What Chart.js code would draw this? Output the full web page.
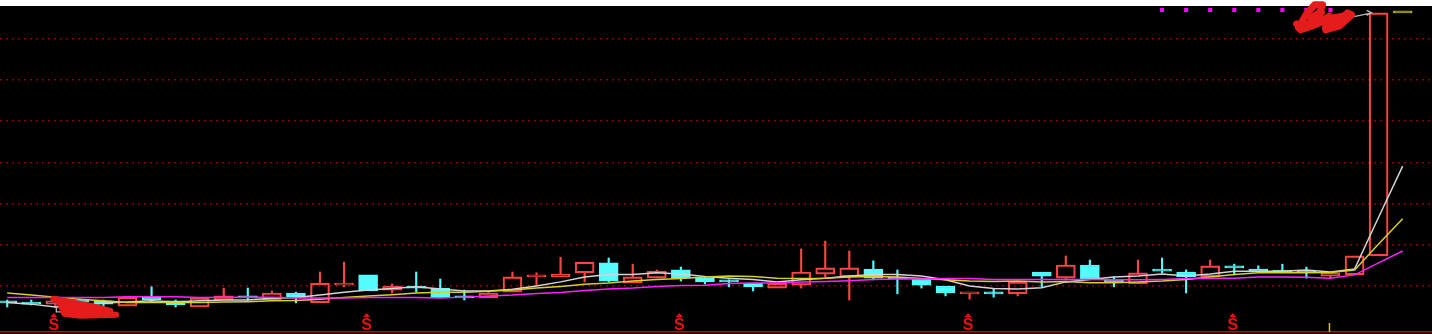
<!DOCTYPE html>
<html>
<head>
<meta charset="utf-8">
<title>K-line</title>
<script src="https://cdn.jsdelivr.net/npm/chart.js@4.4.0/dist/chart.umd.min.js"></script>
<style>
  html, body { margin: 0; padding: 0; background: #000; }
  canvas { display: block; }
</style>
</head>
<body>
<canvas id="kChart" width="1432" height="334"></canvas>
<script>
// trading day index (no date labels are shown on the chart)
const days = [0, 1, 2, 3, 4, 5, 6, 7, 8, 9, 10, 11, 12, 13, 14, 15, 16, 17, 18, 19,
  20, 21, 22, 23, 24, 25, 26, 27, 28, 29, 30, 31, 32, 33, 34, 35, 36, 37, 38, 39,
  40, 41, 42, 43, 44, 45, 46, 47, 48, 49, 50, 51, 52, 53, 54, 55, 56, 57, 58];

const opens = [3.61, 3.61, 3.56, 3.66, 3.64, 3.51, 3.73, 3.64, 3.49, 3.66,
  3.76, 3.66, 3.83, 3.59, 4.02, 4.27, 3.90, 4.00, 3.95, 3.73,
  3.71, 3.85, 4.22, 4.22, 4.32, 4.56, 4.07, 4.19, 4.39, 4.19,
  4.12, 4.07, 3.95, 4.02, 4.29, 4.22, 4.41, 4.19, 4.17, 4.00,
  3.81, 3.83, 3.81, 4.34, 4.19, 4.51, 4.15, 4.05, 4.39, 4.34,
  4.22, 4.49, 4.41, 4.36, 4.36, 4.24, 4.27, 4.73, 10.63];
const highs = [3.66, 3.66, 3.66, 3.68, 3.66, 3.73, 3.98, 3.66, 3.71, 3.95,
  3.95, 3.88, 3.85, 4.34, 4.58, 4.27, 4.05, 4.34, 4.17, 3.90,
  3.85, 4.34, 4.32, 4.70, 4.58, 4.68, 4.53, 4.39, 4.46, 4.22,
  4.15, 4.07, 4.07, 4.90, 5.09, 4.85, 4.61, 4.39, 4.17, 4.00,
  3.83, 3.93, 4.10, 4.34, 4.73, 4.63, 4.22, 4.63, 4.68, 4.39,
  4.63, 4.53, 4.49, 4.53, 4.46, 4.32, 4.73, 10.63, 10.63];
const lows = [3.49, 3.54, 3.47, 3.59, 3.51, 3.51, 3.61, 3.49, 3.49, 3.66,
  3.66, 3.66, 3.59, 3.59, 3.98, 3.88, 3.83, 3.85, 3.71, 3.66,
  3.71, 3.85, 4.02, 4.22, 4.10, 4.10, 4.07, 4.19, 4.12, 4.05,
  3.98, 3.88, 3.95, 3.95, 4.22, 3.66, 4.15, 3.81, 3.95, 3.76,
  3.68, 3.73, 3.76, 3.98, 4.15, 4.17, 3.98, 4.05, 4.32, 3.83,
  4.22, 4.27, 4.34, 4.32, 4.19, 4.19, 4.27, 4.73, 10.63];
const closes = [3.59, 3.56, 3.64, 3.61, 3.56, 3.73, 3.66, 3.54, 3.71, 3.76,
  3.71, 3.83, 3.71, 4.07, 4.07, 3.88, 4.00, 3.95, 3.71, 3.71,
  3.83, 4.22, 4.27, 4.29, 4.58, 4.12, 4.22, 4.36, 4.19, 4.10,
  4.10, 3.98, 4.07, 4.34, 4.44, 4.44, 4.19, 4.17, 4.02, 3.83,
  3.83, 3.81, 4.10, 4.24, 4.51, 4.17, 4.10, 4.32, 4.36, 4.22,
  4.49, 4.44, 4.34, 4.34, 4.32, 4.32, 4.73, 10.63, 10.63];

// moving averages
const ma5 = [3.60, 3.56, 3.49, 3.51, 3.59, 3.61, 3.64, 3.61, 3.64, 3.66,
  3.66, 3.70, 3.72, 3.78, 3.85, 3.90, 3.94, 3.98, 3.93, 3.88,
  3.88, 3.92, 4.00, 4.10, 4.22, 4.28, 4.28, 4.32, 4.29, 4.23,
  4.19, 4.16, 4.10, 4.15, 4.19, 4.24, 4.28, 4.28, 4.24, 4.15,
  4.00, 3.94, 3.93, 3.96, 4.10, 4.16, 4.22, 4.24, 4.29, 4.24,
  4.29, 4.36, 4.36, 4.36, 4.39, 4.34, 4.41, 5.67, 6.91];
const ma10 = [3.83, 3.78, 3.73, 3.68, 3.64, 3.60, 3.60, 3.60, 3.60, 3.61,
  3.62, 3.64, 3.65, 3.68, 3.72, 3.76, 3.79, 3.83, 3.85, 3.85,
  3.87, 3.90, 3.95, 3.99, 4.04, 4.07, 4.12, 4.16, 4.18, 4.22,
  4.24, 4.23, 4.19, 4.18, 4.19, 4.22, 4.23, 4.22, 4.18, 4.15,
  4.12, 4.11, 4.12, 4.10, 4.11, 4.08, 4.08, 4.10, 4.12, 4.16,
  4.22, 4.28, 4.32, 4.33, 4.32, 4.33, 4.39, 5.02, 5.63];
const ma20 = [3.72, 3.72, 3.72, 3.72, 3.72, 3.74, 3.74, 3.74, 3.72, 3.73,
  3.73, 3.73, 3.71, 3.71, 3.71, 3.72, 3.72, 3.72, 3.71, 3.73,
  3.76, 3.78, 3.82, 3.84, 3.89, 3.93, 3.95, 3.99, 4.01, 4.02,
  4.06, 4.07, 4.07, 4.10, 4.11, 4.13, 4.16, 4.17, 4.17, 4.18,
  4.18, 4.16, 4.16, 4.16, 4.16, 4.16, 4.15, 4.15, 4.16, 4.18,
  4.19, 4.19, 4.22, 4.22, 4.21, 4.19, 4.27, 4.56, 4.85];

// price levels with a dotted grid line
const gridLevels = [4, 5, 6, 7, 8, 9, 10];

// indicator signals
const sSignalDays = [2, 15, 28, 40, 51];
const topDotDays = [48, 49, 50, 51, 52, 53, 54, 55];
const tickDays = [55];

const UP = '#f84444', DOWN = '#54fcfc', FLAT = '#b4b400';
const candleColor = days.map((d, i) => closes[i] > opens[i] ? UP : closes[i] < opens[i] ? DOWN : FLAT);
const bodyFill = days.map((d, i) => closes[i] > opens[i] ? 'rgba(0,0,0,0)' : candleColor[i]);

const upperWick = days.map((d, i) => {
  const top = Math.max(opens[i], closes[i]);
  return { x: d, y: highs[i] > top ? [top, highs[i]] : null };
});
const lowerWick = days.map((d, i) => {
  const bot = Math.min(opens[i], closes[i]);
  return { x: d, y: lows[i] < bot ? [lows[i], bot] : null };
});
const bodies = days.map((d, i) => ({ x: d, y: [opens[i], closes[i]] }));
const line = (arr) => days.map((d, i) => ({ x: d, y: arr[i] }));

// black plot, white strip above it
const backdrop = {
  id: 'backdrop',
  beforeDraw(chart) {
    const { ctx, width, height, chartArea } = chart;
    ctx.save();
    ctx.fillStyle = '#000';
    ctx.fillRect(0, 0, width, height);
    ctx.fillStyle = '#fff';
    ctx.fillRect(0, 0, width, chartArea.top);
    ctx.restore();
  }
};

function scribble(ctx, ox, oy, w, strokes) {
  ctx.strokeStyle = '#e41c1c';
  ctx.lineWidth = w;
  ctx.lineCap = 'round';
  ctx.lineJoin = 'round';
  strokes.forEach(s => {
    ctx.beginPath();
    s.forEach((p, j) => j ? ctx.lineTo(ox + p[0], oy + p[1]) : ctx.moveTo(ox + p[0], oy + p[1]));
    ctx.stroke();
  });
}

const marks = {
  id: 'marks',
  afterDraw(chart) {
    const { ctx, chartArea: a, scales: { x, y } } = chart;
    ctx.save();

    // bottom frame line
    ctx.fillStyle = '#c80000';
    ctx.fillRect(a.left, a.bottom - 3, a.right - a.left, 1.5);

    // S signals with arrow
    ctx.fillStyle = '#e81010';
    ctx.font = 'bold 16px "Liberation Sans"';
    ctx.textAlign = 'center';
    ctx.textBaseline = 'alphabetic';
    sSignalDays.forEach(d => {
      const px = x.getPixelForValue(d) - 1.5;
      ctx.beginPath();
      ctx.moveTo(px, a.bottom - 21);
      ctx.lineTo(px + 3.5, a.bottom - 17);
      ctx.lineTo(px - 3.5, a.bottom - 17);
      ctx.closePath();
      ctx.fill();
      ctx.fillText('S', px, a.bottom - 4);
    });

    // magenta dots along the top
    ctx.fillStyle = '#ff00ff';
    topDotDays.forEach(d => {
      const px = x.getPixelForValue(d);
      ctx.fillRect(px - 2, a.top + 2, 4, 4);
    });

    // small yellow tick at the bottom
    ctx.strokeStyle = '#c8c800';
    ctx.lineWidth = 1.5;
    tickDays.forEach(d => {
      const px = x.getPixelForValue(d) - 1;
      ctx.beginPath();
      ctx.moveTo(px, a.bottom - 11);
      ctx.lineTo(px, a.bottom - 2);
      ctx.stroke();
    });

    // highest / lowest price pointers
    const hiIdx = highs.indexOf(Math.max(...highs));
    const loIdx = lows.indexOf(Math.min(...lows));
    const hx = x.getPixelForValue(days[hiIdx]), hy = y.getPixelForValue(highs[hiIdx]);
    const lx = x.getPixelForValue(days[loIdx]), ly = y.getPixelForValue(lows[loIdx]);
    ctx.strokeStyle = '#b4b4b4';
    ctx.lineWidth = 1.3;
    ctx.beginPath();
    ctx.moveTo(hx - 28, hy + 4.5);
    ctx.lineTo(hx - 7, hy);
    ctx.moveTo(hx - 12, hy - 2.5);
    ctx.lineTo(hx - 7, hy);
    ctx.lineTo(hx - 12, hy + 2.5);
    ctx.stroke();
    ctx.beginPath();
    ctx.moveTo(lx + 1, ly - 2);
    ctx.lineTo(lx + 1, ly + 4);
    ctx.lineTo(lx + 6, ly + 4);
    ctx.stroke();

    // hand-drawn red cover marks over the price labels
    scribble(ctx, lx, ly, 6, [
      [[-2, -9], [15, -6], [40, -1], [55, 3]],
      [[5, -4], [9, 6], [25, 8], [61, 7]],
      [[7, -2], [35, 2], [53, 5]],
      [[1, -8], [11, 2]],
      [[10, 0], [30, 5], [45, 7]],
      [[15, -4], [22, 6]]
    ]);
    scribble(ctx, hx, hy, 7, [
      [[-80, 15], [-72, 1], [-64, -8], [-56, -8], [-60, 2], [-73, 14]],
      [[-75, 16], [-61, 11], [-49, 3], [-53, 15], [-41, 9], [-31, 0], [-27, 2], [-39, 13], [-53, 17]],
      [[-82, 11], [-78, 17]],
      [[-68, 5], [-57, -1], [-62, 9]],
      [[-45, 5], [-35, 3]],
      [[-70, 12], [-50, 8]]
    ]);

    ctx.restore();
  }
};

new Chart(document.getElementById('kChart'), {
  type: 'bar',
  data: {
    datasets: [
      { type: 'line', label: 'MA20', data: line(ma20), borderColor: '#ff20ff', borderWidth: 1.5, pointRadius: 0, tension: 0, order: 0 },
      { type: 'line', label: 'MA10', data: line(ma10), borderColor: '#d2d228', borderWidth: 1.5, pointRadius: 0, tension: 0, order: 1 },
      { type: 'line', label: 'MA5', data: line(ma5), borderColor: '#d4d4d4', borderWidth: 1.5, pointRadius: 0, tension: 0, order: 2 },
      { label: 'body', data: bodies, backgroundColor: bodyFill, borderColor: candleColor, borderWidth: 1.5,
        borderSkipped: false, barThickness: 19, minBarLength: 2, grouped: false, order: 3 },
      { label: 'upper', data: upperWick, backgroundColor: candleColor, barThickness: 1.5, grouped: false, order: 4 },
      { label: 'lower', data: lowerWick, backgroundColor: candleColor, barThickness: 1.5, grouped: false, order: 4 }
    ]
  },
  options: {
    responsive: false,
    devicePixelRatio: 1,
    animation: false,
    events: [],
    layout: { padding: { top: 6, left: 0, right: 0, bottom: 0 }, autoPadding: false },
    plugins: { legend: { display: false }, tooltip: { enabled: false } },
    scales: {
      x: { type: 'linear', min: -0.3, max: 59.22, offset: false, display: false },
      y: {
        min: 2.835,
        max: 10.796,
        afterBuildTicks: (scale) => { scale.ticks = gridLevels.map(v => ({ value: v })); },
        ticks: { display: false },
        grid: { color: '#900000', lineWidth: 1.5, drawTicks: false },
        border: { display: false, dash: [2, 4] }
      }
    }
  },
  plugins: [backdrop, marks]
});
</script>
</body>
</html>
